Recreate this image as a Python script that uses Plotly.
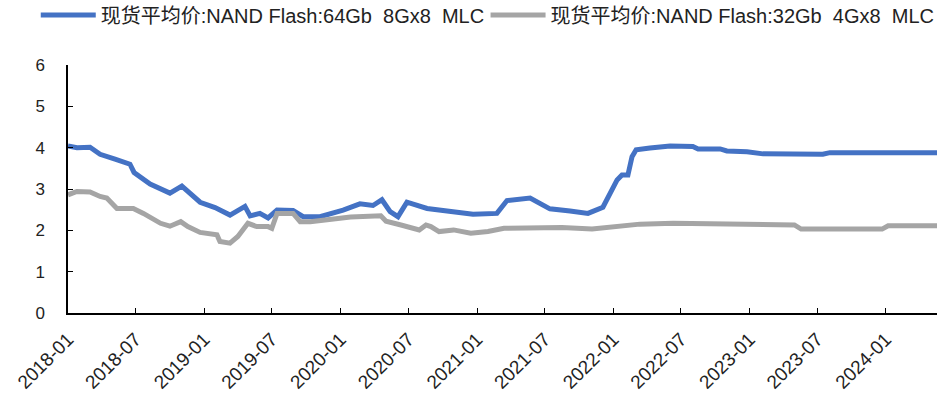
import plotly.graph_objects as go

# 现货平均价:NAND Flash:64Gb 8Gx8 MLC
dates_64 = ["2018-01-01", "2018-01-25", "2018-03-01", "2018-03-28", "2018-05-07", "2018-06-16",
            "2018-06-27", "2018-08-09", "2018-10-01", "2018-11-02", "2018-12-21", "2019-01-30",
            "2019-03-11", "2019-04-20", "2019-05-04", "2019-05-30", "2019-06-21", "2019-07-15",
            "2019-08-27", "2019-09-23", "2019-11-07", "2020-01-08", "2020-02-22", "2020-03-28",
            "2020-04-21", "2020-05-13", "2020-06-03", "2020-06-27", "2020-08-20", "2020-10-28",
            "2020-12-21", "2021-02-23", "2021-03-22", "2021-05-23", "2021-07-15", "2021-09-07",
            "2021-10-25", "2021-12-04", "2022-01-11", "2022-01-24", "2022-02-09", "2022-02-20",
            "2022-03-03", "2022-04-09", "2022-06-02", "2022-08-02", "2022-08-16", "2022-10-14",
            "2022-11-01", "2022-12-25", "2023-02-06", "2023-07-16", "2023-08-04", "2024-05-17"]
values_64 = [4.04, 4.00, 4.01, 3.84, 3.72, 3.60,
             3.40, 3.12, 2.90, 3.07, 2.68, 2.55,
             2.37, 2.58, 2.35, 2.41, 2.30, 2.49,
             2.48, 2.33, 2.33, 2.49, 2.64, 2.60,
             2.74, 2.45, 2.33, 2.68, 2.53, 2.45,
             2.39, 2.41, 2.72, 2.78, 2.52, 2.47,
             2.41, 2.56, 3.22, 3.34, 3.34, 3.78,
             3.95, 3.99, 4.04, 4.03, 3.97, 3.97,
             3.92, 3.90, 3.85, 3.84, 3.88, 3.88]

# 现货平均价:NAND Flash:32Gb 4Gx8 MLC
dates_32 = ["2018-01-01", "2018-01-25", "2018-03-01", "2018-03-28", "2018-04-15", "2018-05-12",
            "2018-06-25", "2018-07-22", "2018-09-06", "2018-10-01", "2018-10-30", "2018-11-18",
            "2018-12-21", "2019-01-16", "2019-02-04", "2019-02-12", "2019-03-11", "2019-04-01",
            "2019-04-28", "2019-05-22", "2019-06-21", "2019-07-01", "2019-07-15", "2019-08-27",
            "2019-09-15", "2019-10-12", "2019-12-05", "2020-01-28", "2020-04-18", "2020-05-02",
            "2020-06-11", "2020-07-30", "2020-08-17", "2020-08-30", "2020-09-21", "2020-10-30",
            "2020-12-15", "2021-01-30", "2021-03-14", "2021-08-16", "2021-11-05", "2022-01-26",
            "2022-03-13", "2022-06-10", "2023-05-01", "2023-05-19", "2023-12-22", "2024-01-07",
            "2024-05-17"]
values_32 = [2.86, 2.94, 2.93, 2.82, 2.78, 2.53,
             2.53, 2.41, 2.17, 2.10, 2.21, 2.09,
             1.95, 1.93, 1.89, 1.73, 1.69, 1.85,
             2.17, 2.09, 2.09, 2.05, 2.41, 2.41,
             2.21, 2.21, 2.27, 2.32, 2.35, 2.22,
             2.13, 2.01, 2.13, 2.09, 1.97, 2.01,
             1.93, 1.97, 2.05, 2.07, 2.03, 2.10,
             2.15, 2.17, 2.13, 2.03, 2.03, 2.11,
             2.11]

name_64 = "现货平均价:NAND Flash:64Gb\u00a0\u00a08Gx8\u00a0\u00a0MLC"
name_32 = "现货平均价:NAND Flash:32Gb\u00a0\u00a04Gx8\u00a0\u00a0MLC"

FONT = "Liberation Sans, Arial, Noto Sans CJK SC, sans-serif"

fig = go.Figure()
fig.add_trace(go.Scatter(x=dates_64, y=values_64, mode="lines", name=name_64,
                         line=dict(color="#4472C4", width=5), legend="legend"))
fig.add_trace(go.Scatter(x=dates_32, y=values_32, mode="lines", name=name_32,
                         line=dict(color="#A5A5A5", width=5), legend="legend2"))

legend_common = dict(orientation="h", xref="container", yref="container",
                     xanchor="left", yanchor="middle", itemwidth=55,
                     font=dict(size=20, family=FONT, color="#222222"),
                     bgcolor="rgba(0,0,0,0)")

fig.update_layout(
    width=941, height=396,
    margin=dict(l=68, r=4, t=65, b=83),
    paper_bgcolor="white", plot_bgcolor="white",
    font=dict(family=FONT, color="#222222", size=17),
    showlegend=True,
    legend=dict(x=0.038, y=0.962, **legend_common),
    legend2=dict(x=0.516, y=0.962, **legend_common),
    xaxis=dict(type="date", range=["2018-01-01", "2024-05-17"],
               tick0="2018-01-01", dtick="M6", tickformat="%Y-%m",
               tickangle=-45, ticks="inside", ticklen=5, tickcolor="#000000",
               showline=True, linecolor="#000000", linewidth=1.5,
               showgrid=False, zeroline=False, ticklabelstandoff=6,
               tickfont=dict(size=19, family=FONT, color="#222222")),
    yaxis=dict(range=[0, 6], dtick=1, tick0=0,
               ticks="inside", ticklen=5, tickcolor="#000000",
               showline=True, linecolor="#000000", linewidth=1.5,
               showgrid=False, zeroline=False, ticklabelstandoff=18,
               tickfont=dict(size=17, family=FONT, color="#222222")),
)

fig.write_html("out.html")
